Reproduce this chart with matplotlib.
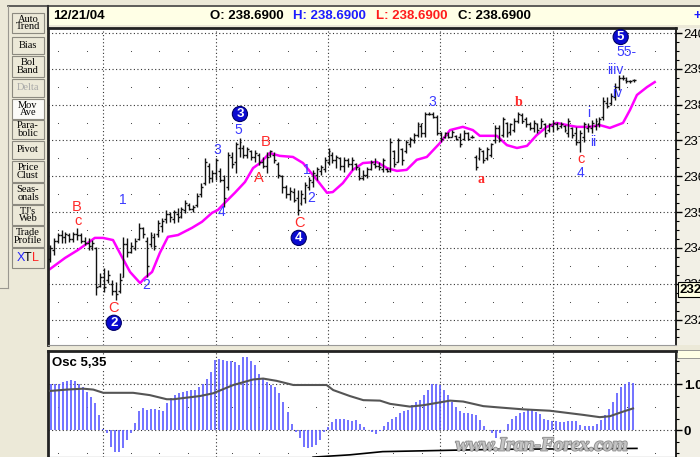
import matplotlib.pyplot as plt
import matplotlib.patheffects as pe
import numpy as np
from matplotlib.lines import Line2D
from matplotlib.patches import Rectangle
from matplotlib.transforms import blended_transform_factory


# daily bars, oldest first
bar_high = [
    234.08, 234.28, 234.42, 234.50, 234.45, 234.42, 234.45, 234.56, 234.42, 234.31,
    234.28, 234.22, 234.03, 233.30, 233.44, 233.39, 233.11, 233.06, 233.30, 234.31,
    234.28, 234.17, 234.28, 234.70, 234.59, 234.31, 234.45, 234.42, 234.78, 234.84,
    235.06, 235.01, 235.06, 235.12, 235.14, 235.34, 235.26, 235.20, 235.54, 235.81,
    236.51, 236.37, 236.18, 236.51, 236.23, 236.04, 236.68, 236.68, 236.96, 237.07,
    236.87, 236.82, 236.74, 236.74, 236.65, 236.54, 236.68, 236.74, 236.68, 236.40,
    236.04, 235.76, 235.70, 235.67, 235.62, 235.62, 235.84, 235.98, 236.18, 236.26,
    236.32, 236.54, 236.79, 236.68, 236.60, 236.54, 236.54, 236.51, 236.54, 236.37,
    236.26, 236.18, 236.26, 236.46, 236.51, 236.40, 236.51, 236.23, 237.07, 236.74,
    237.07, 236.79, 237.01, 237.10, 237.21, 237.52, 237.49, 237.80, 237.80, 237.80,
    237.71, 237.24, 237.24, 237.24, 237.29, 237.15, 237.21, 237.29, 237.24, 237.15,
    236.60, 236.82, 236.74, 236.82, 236.93, 237.43, 237.43, 237.66, 237.52, 237.49,
    237.63, 237.80, 237.77, 237.66, 237.52, 237.57, 237.49, 237.63, 237.49, 237.49,
    237.57, 237.52, 237.52, 237.43, 237.63, 237.38, 237.38, 237.29, 237.52, 237.49,
    237.57, 237.63, 237.66, 238.21, 238.21, 238.33, 238.60, 238.83, 238.83, 238.77,
    238.69, 238.72,
]
bar_low = [
    233.61, 233.81, 234.14, 234.14, 234.14, 234.17, 234.17, 234.22, 234.14, 234.08,
    233.94, 233.94, 232.69, 232.91, 232.77, 233.03, 232.69, 232.55, 232.75, 233.19,
    233.75, 233.86, 233.94, 234.22, 234.28, 233.19, 234.03, 233.94, 234.31, 234.45,
    234.70, 234.73, 234.70, 234.73, 234.84, 234.98, 235.06, 235.01, 235.14, 235.42,
    235.76, 235.81, 235.84, 235.90, 235.84, 235.14, 235.62, 236.23, 236.09, 236.54,
    236.51, 236.51, 236.46, 236.40, 236.32, 236.23, 236.09, 236.54, 236.37, 235.95,
    235.54, 235.40, 235.34, 235.28, 234.92, 235.20, 235.26, 235.62, 235.70, 235.90,
    236.04, 236.12, 236.32, 236.37, 236.23, 236.18, 236.12, 236.26, 236.18, 236.18,
    235.90, 235.90, 235.95, 236.18, 236.23, 236.18, 236.12, 236.12, 236.12, 236.26,
    236.40, 236.32, 236.65, 236.82, 236.93, 237.10, 237.10, 237.10, 237.71, 237.63,
    237.15, 236.96, 237.07, 237.07, 237.10, 237.01, 236.82, 237.01, 237.01, 237.07,
    236.18, 236.46, 236.37, 236.46, 236.54, 236.93, 236.96, 237.10, 237.10, 237.15,
    237.24, 237.49, 237.49, 237.38, 237.29, 237.24, 237.21, 237.35, 237.10, 237.24,
    237.24, 237.29, 237.35, 237.24, 237.10, 237.07, 236.87, 236.68, 236.96, 237.24,
    237.21, 237.29, 237.38, 237.57, 237.91, 237.99, 238.13, 238.41, 238.69, 238.60,
    238.60, 238.63,
]
bar_open = [
    233.70, 233.95, 234.20, 234.35, 234.30, 234.35, 234.25, 234.40, 234.35, 234.20,
    234.15, 234.05, 234.00, 232.95, 233.20, 233.10, 233.00, 232.80, 232.80, 233.20,
    234.10, 233.90, 234.00, 234.25, 234.55, 234.20, 234.10, 234.30, 234.40, 234.60,
    234.80, 234.95, 234.80, 234.95, 234.90, 235.05, 235.20, 235.10, 235.20, 235.50,
    235.80, 236.30, 235.95, 236.10, 236.15, 235.90, 235.70, 236.55, 236.40, 236.80,
    236.80, 236.60, 236.70, 236.55, 236.60, 236.40, 236.30, 236.60, 236.60, 236.35,
    236.00, 235.70, 235.50, 235.55, 235.40, 235.25, 235.40, 235.70, 235.85, 236.05,
    236.15, 236.20, 236.40, 236.60, 236.45, 236.50, 236.30, 236.45, 236.35, 236.35,
    236.20, 235.95, 236.05, 236.20, 236.35, 236.30, 236.20, 236.20, 236.20, 236.70,
    236.40, 236.75, 236.70, 236.90, 237.00, 237.15, 237.40, 237.20, 237.75, 237.75,
    237.65, 237.20, 237.10, 237.15, 237.10, 237.12, 237.10, 237.05, 237.20, 237.10,
    236.55, 236.50, 236.70, 236.50, 236.60, 237.00, 237.35, 237.15, 237.50, 237.25,
    237.30, 237.55, 237.70, 237.60, 237.45, 237.35, 237.45, 237.35, 237.45, 237.30,
    237.40, 237.45, 237.40, 237.40, 237.20, 237.35, 237.20, 236.95, 237.10, 237.35,
    237.35, 237.40, 237.45, 237.65, 238.05, 238.05, 238.20, 238.50, 238.75, 238.70,
    238.65, 238.69,
]
bar_close = [
    234.00, 234.20, 234.35, 234.30, 234.40, 234.25, 234.40, 234.35, 234.20, 234.15,
    234.05, 234.15, 232.90, 233.20, 232.90, 233.25, 232.80, 232.70, 233.10, 234.10,
    233.90, 234.05, 234.20, 234.55, 234.40, 233.50, 234.35, 234.05, 234.70, 234.75,
    234.95, 234.85, 235.00, 234.85, 235.10, 235.25, 235.10, 235.15, 235.45, 235.70,
    236.40, 235.95, 236.10, 236.45, 235.90, 235.40, 236.60, 236.35, 236.90, 236.95,
    236.60, 236.75, 236.55, 236.65, 236.40, 236.30, 236.55, 236.70, 236.45, 236.05,
    235.70, 235.50, 235.60, 235.35, 235.05, 235.50, 235.75, 235.90, 236.10, 236.20,
    236.25, 236.45, 236.70, 236.45, 236.55, 236.30, 236.45, 236.35, 236.45, 236.25,
    235.95, 236.05, 236.20, 236.40, 236.30, 236.25, 236.45, 236.15, 236.95, 236.35,
    237.00, 236.45, 236.95, 237.05, 237.15, 237.45, 237.20, 237.75, 237.75, 237.65,
    237.20, 237.05, 237.20, 237.10, 237.25, 237.05, 236.90, 237.20, 237.05, 237.10,
    236.25, 236.75, 236.45, 236.75, 236.90, 237.35, 237.00, 237.60, 237.20, 237.45,
    237.55, 237.75, 237.55, 237.45, 237.35, 237.50, 237.30, 237.55, 237.20, 237.45,
    237.50, 237.35, 237.45, 237.30, 237.55, 237.15, 236.95, 237.20, 237.45, 237.40,
    237.50, 237.55, 237.60, 238.10, 237.95, 238.25, 238.50, 238.75, 238.75, 238.65,
    238.66, 238.69,
]

# moving average, plotted shifted forward so it runs past the last bar
ma_bar = [
    0, 3.9, 7.2, 9.8, 11.6, 13.7, 16.3, 18.6, 20.7, 23.3, 24.5, 26.4, 28.4, 30.5,
    33.1, 36.7, 39.3, 41.9, 43.4, 45.2, 47.8, 50.4, 52.5, 54.3, 56.8, 59.4, 62.8,
    65.4, 69.0, 71.6, 73.1, 75.7, 78.3, 80.9, 84.5, 87.1, 89.7, 92.2, 94.8, 97.4,
    100.8, 103.4, 106.7, 109.3, 111.1, 115.5, 118.1, 120.7, 123.3, 125.8, 128.4,
    131.0, 133.6, 136.2, 139.5, 142.1, 144.7, 148.1, 149.9, 151.7, 154.3, 156.3,
]
ma_price = [
    233.41, 233.72, 233.94, 234.14, 234.28, 234.28, 234.22, 233.75, 233.33, 233.02,
    233.16, 233.33, 233.86, 234.31, 234.36, 234.56, 234.73, 234.98, 235.06, 235.26,
    235.54, 235.84, 236.23, 236.37, 236.65, 236.57, 236.54, 236.37, 235.90, 235.54,
    235.56, 235.81, 236.18, 236.37, 236.40, 236.23, 236.15, 236.18, 236.46, 236.54,
    236.93, 237.29, 237.38, 237.29, 237.13, 237.13, 236.87, 236.79, 236.85, 237.15,
    237.38, 237.49, 237.43, 237.38, 237.38, 237.43, 237.35, 237.49, 237.85, 238.27,
    238.49, 238.63,
]

# Osc 5,35 histogram
osc_values = [
    1.00, 1.00, 1.01, 1.04, 1.07, 1.09, 1.06, 1.01, 0.93, 0.82,
    0.72, 0.59, 0.33, 0.02, -0.07, -0.36, -0.47, -0.47, -0.40, -0.22,
    -0.07, 0.16, 0.42, 0.49, 0.44, 0.46, 0.46, 0.44, 0.42, 0.58,
    0.69, 0.76, 0.80, 0.83, 0.86, 0.88, 0.88, 0.94, 1.01, 1.12,
    1.27, 1.52, 1.54, 1.52, 1.51, 1.51, 1.49, 1.41, 1.59, 1.59,
    1.51, 1.41, 1.23, 1.12, 1.05, 0.99, 0.94, 0.80, 0.62, 0.40,
    0.14, -0.05, -0.18, -0.36, -0.40, -0.38, -0.33, -0.22, -0.05, 0.06,
    0.18, 0.23, 0.25, 0.23, 0.22,
    0.20, 0.22, 0.14, 0.06, 0.01, -0.04, -0.09, -0.03, 0.09, 0.18,
    0.23, 0.29, 0.38, 0.42, 0.44, 0.54, 0.62, 0.65, 0.76, 0.88,
    1.00, 1.00, 0.98, 0.87, 0.76, 0.62, 0.51, 0.42, 0.38, 0.38,
    0.35, 0.33, 0.22, 0.09, 0.01, -0.07, -0.18, -0.07, 0.00, 0.13,
    0.23, 0.30, 0.36, 0.40, 0.44, 0.44, 0.40, 0.35, 0.25, 0.22,
    0.20, 0.20, 0.18, 0.18, 0.20, 0.20, 0.20, 0.11, 0.09, 0.09,
    0.09, 0.13, 0.22, 0.33, 0.45, 0.62, 0.80, 0.94, 1.01, 1.04,
    1.02,
]
signal_bar = [
    0, 4.3, 8.6, 11.2, 13.8, 21.5, 25.8, 30.2, 31.9, 38.8, 42.2, 47.4, 52.5, 55.1,
    58.6, 62.9, 71.5, 73.2, 77.5, 81.0, 85.3, 87.9, 93.0, 96.5, 103.4, 106.8,
    112.0, 116.3, 122.3, 129.2, 137.8, 142.1, 144.7, 148.1, 150.7,
]
signal_value = [
    0.85, 0.88, 0.90, 0.88, 0.81, 0.81, 0.76, 0.67, 0.67, 0.74, 0.80, 0.98, 1.10,
    1.12, 1.07, 0.98, 0.98, 0.87, 0.74, 0.65, 0.64, 0.57, 0.51, 0.54, 0.64, 0.62,
    0.52, 0.49, 0.45, 0.42, 0.33, 0.28, 0.30, 0.40, 0.47,
]
slow_bar = [68, 77.5, 86, 115.5, 151.7]
slow_value = [-0.59, -0.54, -0.47, -0.42, -0.40]

# elliott wave counts: (text, bar, price)
blue_labels = [
    ("1", 18.9, 235.34), ("2", 24.8, 232.97), ("3", 43.2, 236.74),
    ("4", 44.4, 235.01), ("5", 48.6, 237.29), ("1", 66.4, 236.18),
    ("2", 67.4, 235.40), ("3", 98.7, 238.07), ("4", 137.2, 236.09),
    ("i", 139.3, 237.77), ("ii", 140.3, 236.96), ("iiiv", 146.0, 238.97),
    ("iv", 146.5, 238.33), ("55-", 149.1, 239.47),
]
red_labels = [
    ("B", 7.0, 235.14), ("c", 7.2, 234.75), ("C", 16.3, 232.33),
    ("A", 54.0, 235.95), ("B", 55.8, 236.96), ("C", 64.6, 234.70),
    ("c", 137.2, 236.48),
]
red_serif_labels = [("a", 111.4, 235.90), ("b", 121.2, 238.05)]
circle_labels = [
    ("2", 16.5, 231.91), ("3", 49.1, 237.74), ("4", 64.3, 234.28),
    ("5", 147.5, 239.89),
]

price_ticks = [232, 233, 234, 235, 236, 237, 238, 239, 240]
month_lines = [13.8, 42.9, 71.9, 100.9, 130.0]
week_dots = [2.1, 9.6, 20.9, 28.2, 35.7, 47.0, 54.0, 61.5, 68.7, 81.4, 88.6,
             96.1, 107.2, 114.5, 122.0, 134.4, 141.6, 149.1, 156.4]

header_date = "12/21/04"
last_price = "238.6900"

buttons = [
    ("Auto\nTrend", 13, 33), ("Bias", 37, 54), ("Bol\nBand", 56, 77),
    ("Delta", 79, 97), ("Mov\nAve", 99, 119), ("Para-\nbolic", 120, 139),
    ("Pivot", 141, 159), ("Price\nClust", 161, 182), ("Seas-\nonals", 183, 204),
    ("TJ's\nWeb", 205, 225), ("Trade\nProfile", 226, 247), ("", 248, 268),
]


W, H = 700, 457
BEIGE = "#ECE9D8"
BLUE = "#3b3bff"
RED = "#ff2a2a"
SANS = "Liberation Sans"


def fx(x):
    return x / W


def fy(y):
    return 1 - y / H


fig = plt.figure(figsize=(7, 4.57), dpi=100, facecolor=BEIGE)

# right axis strips and window frame (kept behind the axes)
fig.add_artist(Rectangle((fx(677), fy(345)), 23 / W, 317 / H, zorder=-5,
                         transform=fig.transFigure, fc="#F2F0E6", ec="none"))
fig.add_artist(Rectangle((fx(677), 0), 23 / W, 106 / H, zorder=-5,
                         transform=fig.transFigure, fc="#F2F0E6", ec="none"))
fig.add_artist(Rectangle((fx(677), fy(358)), 23 / W, 8 / H, zorder=-4,
                         transform=fig.transFigure, fc="#FFFFE6", ec="#888888", lw=0.6))
fig.add_artist(Line2D([fx(8), 1], [fy(6), fy(6)], color="#444444", lw=1.2))
fig.add_artist(Line2D([fx(8), fx(8)], [fy(6), fy(288)], color="#9a9890", lw=0.8))
fig.add_artist(Line2D([0, fx(8)], [fy(288), fy(288)], color="#9a9890", lw=0.8))

# header bar
fig.add_artist(Rectangle((fx(48), fy(25)), 652 / W, 18 / H, zorder=-5,
                         transform=fig.transFigure, fc="#FFFFE6", ec="none"))
fig.add_artist(Line2D([fx(48), fx(48)], [fy(6), fy(26)], color="#333333", lw=1.5))
fig.text(fx(53), fy(16), header_date, fontsize=9.5, fontweight="bold",
         family=SANS, va="center")
fig.text(fx(210), fy(16), "O: " + last_price, fontsize=9.5, fontweight="bold",
         family=SANS, va="center")
fig.text(fx(293), fy(16), "H: " + last_price, fontsize=9.5, fontweight="bold",
         family=SANS, va="center", color="#1c1cff")
fig.text(fx(376), fy(16), "L: " + last_price, fontsize=9.5, fontweight="bold",
         family=SANS, va="center", color="#ff1c1c")
fig.text(fx(458), fy(16), "C: " + last_price, fontsize=9.5, fontweight="bold",
         family=SANS, va="center")
fig.text(fx(694), fy(16), "+", fontsize=9.5, fontweight="bold",
         family=SANS, va="center", color="#1c1cff")

# toolbar buttons
for name, top, bottom in buttons:
    face = "#FBFBF8" if name == "Mov\nAve" else BEIGE
    fig.add_artist(Rectangle((fx(12), fy(bottom)), 32 / W, (bottom - top) / H,
                             transform=fig.transFigure, fc=face, ec="#8c8a80", lw=0.8))
    colour = "#a8a8a8" if name == "Delta" else "black"
    fig.text(fx(28), fy((top + bottom) / 2), name, fontsize=7.5,
             family="Liberation Serif", ha="center", va="center",
             color=colour, linespacing=0.8)
fig.text(fx(21), fy(258), "X", fontsize=9, family=SANS, ha="center",
         va="center", color="#2222ff")
fig.text(fx(28), fy(258), "T", fontsize=9, family=SANS, ha="center", va="center")
fig.text(fx(35), fy(258), "L", fontsize=9, family=SANS, ha="center",
         va="center", color="#ff2222")


# main price panel
ax = fig.add_axes([fx(48), fy(345), 628 / W, 317 / H])
ax.set_xlim(-0.5, 161.8)
ax.set_ylim(231.29, 240.14)

for price in price_ticks:
    ax.axhline(price, color="#333333", lw=0.8, ls=(0, (1, 2.2)), zorder=1)
for bar in month_lines:
    ax.axvline(bar, color="#333333", lw=0.8, ls=(0, (1, 2.2)), zorder=1)
dot_x, dot_y = np.meshgrid(week_dots, np.array(price_ticks) - 0.5)
ax.scatter(dot_x.ravel(), dot_y.ravel(), s=0.6, color="#333333", lw=0, zorder=1)

bars = np.arange(len(bar_high))
ax.vlines(bars, bar_low, bar_high, color="#111111", lw=1.0, zorder=3)
ax.hlines(bar_open, bars - 0.5, bars, color="#111111", lw=1.0, zorder=3)
ax.hlines(bar_close, bars, bars + 0.5, color="#111111", lw=1.0, zorder=3)

ax.plot(ma_bar, ma_price, color="#ff00ff", lw=1.8, zorder=2)

for text, bar, price in blue_labels:
    ax.text(bar, price, text, color=BLUE, fontsize=10, family=SANS,
            ha="center", va="center", zorder=4)
for text, bar, price in red_labels:
    ax.text(bar, price, text, color=RED, fontsize=10.5, family=SANS,
            ha="center", va="center", zorder=4)
for text, bar, price in red_serif_labels:
    ax.text(bar, price, text, color=RED, fontsize=10, fontweight="bold",
            family="Liberation Serif", ha="center", va="center", zorder=4)
for text, bar, price in circle_labels:
    ax.text(bar, price, text, color="white", fontsize=9.5, fontweight="bold",
            family=SANS, ha="center", va="center", zorder=5,
            bbox=dict(boxstyle="circle,pad=0.12", fc="#0a0ad0", ec="#000066", lw=0.8))

ax.set_xticks([])
ax.yaxis.tick_right()
ax.set_yticks(price_ticks)
ax.set_yticklabels([str(p) for p in price_ticks], fontsize=9.5, family=SANS)
ax.set_yticks(np.arange(231.5, 240.1, 0.25), minor=True)
ax.tick_params(axis="y", which="major", direction="out", length=4, width=1, pad=1.5)
ax.tick_params(axis="y", which="minor", direction="out", length=2, width=0.8)
ax.spines["left"].set_linewidth(2)
ax.spines["top"].set_linewidth(2)
ax.spines["left"].set_color("#222222")
ax.spines["top"].set_color("#222222")
ax.spines["right"].set_linewidth(1.2)
ax.spines["bottom"].set_color("#999999")

# price marker box on the axis
marker_tf = blended_transform_factory(ax.transAxes, ax.transData)
ax.text(1.006, 232.83, "232.83", transform=marker_tf, fontsize=9.5,
        fontweight="bold", family=SANS, va="center", ha="left", clip_on=False,
        zorder=6,
        bbox=dict(boxstyle="square,pad=0.12", fc="#FFFFE1", ec="black", lw=0.8))


# oscillator panel
ax_osc = fig.add_axes([fx(48), 0, 628 / W, 106 / H])
ax_osc.set_xlim(-0.5, 161.8)
ax_osc.set_ylim(-0.587, 1.72)

for level in [0, 1]:
    ax_osc.axhline(level, color="#333333", lw=0.8, ls=(0, (1, 2.2)), zorder=1)
for bar in month_lines:
    ax_osc.axvline(bar, color="#333333", lw=0.8, ls=(0, (1, 2.2)), zorder=1)
odot_x, odot_y = np.meshgrid(week_dots, [-0.5, 0.5, 1.5])
ax_osc.scatter(odot_x.ravel(), odot_y.ravel(), s=0.6, color="#333333", lw=0, zorder=1)

osc_x = np.linspace(0.2, 150.6, len(osc_values))
ax_osc.vlines(osc_x, 0, osc_values, color="#5a5aff", lw=1.2, zorder=2)
ax_osc.plot(signal_bar, signal_value, color="#555555", lw=1.5, zorder=3)
ax_osc.plot(slow_bar, slow_value, color="black", lw=1.2, zorder=3)

ax_osc.text(0.5, 1.46, "Osc 5,35", fontsize=9.5, fontweight="bold",
            family=SANS, va="center", ha="left", zorder=4,
            bbox=dict(boxstyle="square,pad=0.05", fc="white", ec="none"))

ax_osc.set_xticks([])
ax_osc.yaxis.tick_right()
ax_osc.set_yticks([0, 1])
ax_osc.set_yticklabels(["0", "1.0"], fontsize=9.5, fontweight="bold", family=SANS)
ax_osc.set_yticks(np.arange(-0.5, 1.6, 0.25), minor=True)
ax_osc.tick_params(axis="y", which="major", direction="out", length=4, width=1, pad=1.5)
ax_osc.tick_params(axis="y", which="minor", direction="out", length=2, width=0.8)
ax_osc.spines["top"].set_linewidth(2)
ax_osc.spines["top"].set_color("#222222")
ax_osc.spines["left"].set_linewidth(2)
ax_osc.spines["left"].set_color("#222222")
ax_osc.spines["right"].set_linewidth(1.2)

# watermark
fig.text(fx(542), fy(446), "www.Iran-Forex.com", fontsize=14, fontweight="bold",
         style="italic", family="Liberation Serif", color="#c4c4c4",
         ha="center", va="center",
         path_effects=[pe.withStroke(linewidth=1.3, foreground="#8e8e8e")])

fig.savefig("out.png", dpi=100, facecolor=BEIGE)
